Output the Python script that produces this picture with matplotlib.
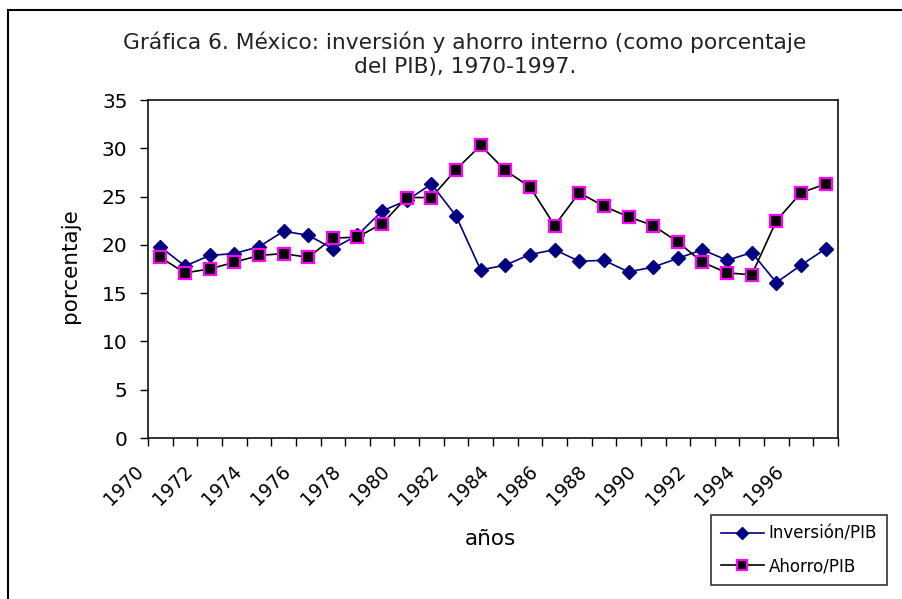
import numpy as np
import matplotlib
matplotlib.use("Agg")
import matplotlib.pyplot as plt
from matplotlib.lines import Line2D
from matplotlib.transforms import ScaledTranslation

plt.rcParams['font.family'] = ['DejaVu Sans']

years = list(range(1970, 1998))
inversion = [19.8, 17.8, 18.9, 19.1, 19.8, 21.4, 21.0, 19.6, 21.0, 23.5,
             24.6, 26.3, 23.0, 17.4, 17.9, 19.0, 19.5, 18.3, 18.4, 17.2,
             17.7, 18.6, 19.5, 18.4, 19.2, 16.1, 17.9, 19.6]
ahorro = [18.7, 17.1, 17.5, 18.2, 18.9, 19.1, 18.7, 20.7, 20.8, 22.2,
          24.9, 24.9, 27.8, 30.3, 27.7, 26.0, 22.0, 25.4, 24.0, 22.9,
          22.0, 20.3, 18.2, 17.1, 16.9, 22.5, 25.4, 26.3]
tick_labels = [str(y) for y in years[::2]]

W, H = 902, 599
fig = plt.figure(figsize=(W/100, H/100), dpi=100)
ax = fig.add_axes([148/W, 1-438/H, 690/W, 338/H])

x = np.arange(len(years))
ax.plot(x, inversion, color='#000080', lw=1.2, marker='D', ms=7,
        mfc='#000080', mec='#000080', label='Inversión/PIB')
ax.plot(x, ahorro, color='black', lw=1.2, marker='s', ms=8,
        mfc='black', mec='#ff00ff', mew=1.6, label='Ahorro/PIB')

ax.set_xlim(-0.5, len(years) - 0.5)
ax.set_ylim(0, 35)
ax.set_yticks(range(0, 36, 5))
ax.tick_params(axis='y', direction='out', length=5.8, width=1, labelsize=14.5, pad=9)

# ticks on the category boundaries, labels on every other category
ax.set_xticks(np.arange(-0.5, len(years)), minor=True)
ax.tick_params(axis='x', which='minor', direction='out', length=5.8, width=1)
ax.set_xticks(x[::2])
ax.set_xticklabels(tick_labels, rotation=45, ha='right', va='center',
                   rotation_mode='anchor', fontsize=13.5)
ax.tick_params(axis='x', which='major', length=0, pad=22)
shift = ScaledTranslation(-0.2, 0, fig.dpi_scale_trans)
for lab in ax.get_xticklabels():
    lab.set_transform(lab.get_transform() + shift)

for s in ax.spines.values():
    s.set_linewidth(1.2)
    s.set_color('#111111')

fig.text(70/W, 1-266/H, 'porcentaje', rotation=90, ha='center', va='center', fontsize=15.5)
fig.text(490/W, 1-539/H, 'años', ha='center', va='center', fontsize=15.5)

fig.text(465/W, 1-42/H, 'Gráfica 6. México: inversión y ahorro interno (como porcentaje',
         ha='center', va='center', fontsize=15.7, color='#222222')
fig.text(465/W, 1-67/H, 'del PIB), 1970-1997.',
         ha='center', va='center', fontsize=15.7, color='#222222')

leg = fig.legend(loc='upper left', bbox_to_anchor=(711/W, 1-515/H),
                 fontsize=12, frameon=True, fancybox=False, edgecolor='black',
                 handlelength=2.55, borderpad=0.6, labelspacing=0.85,
                 handletextpad=0.3, borderaxespad=0, markerscale=0.85)
leg.get_frame().set_linewidth(1.2)

# outer chart border (top and left visible)
fig.add_artist(Line2D([8/W, 8/W], [0, 1-10/H], color='black', lw=1.5,
                      transform=fig.transFigure))
fig.add_artist(Line2D([8/W, 1], [1-10/H, 1-10/H], color='black', lw=1.5,
                      transform=fig.transFigure))

fig.savefig('out.png', dpi=100)
